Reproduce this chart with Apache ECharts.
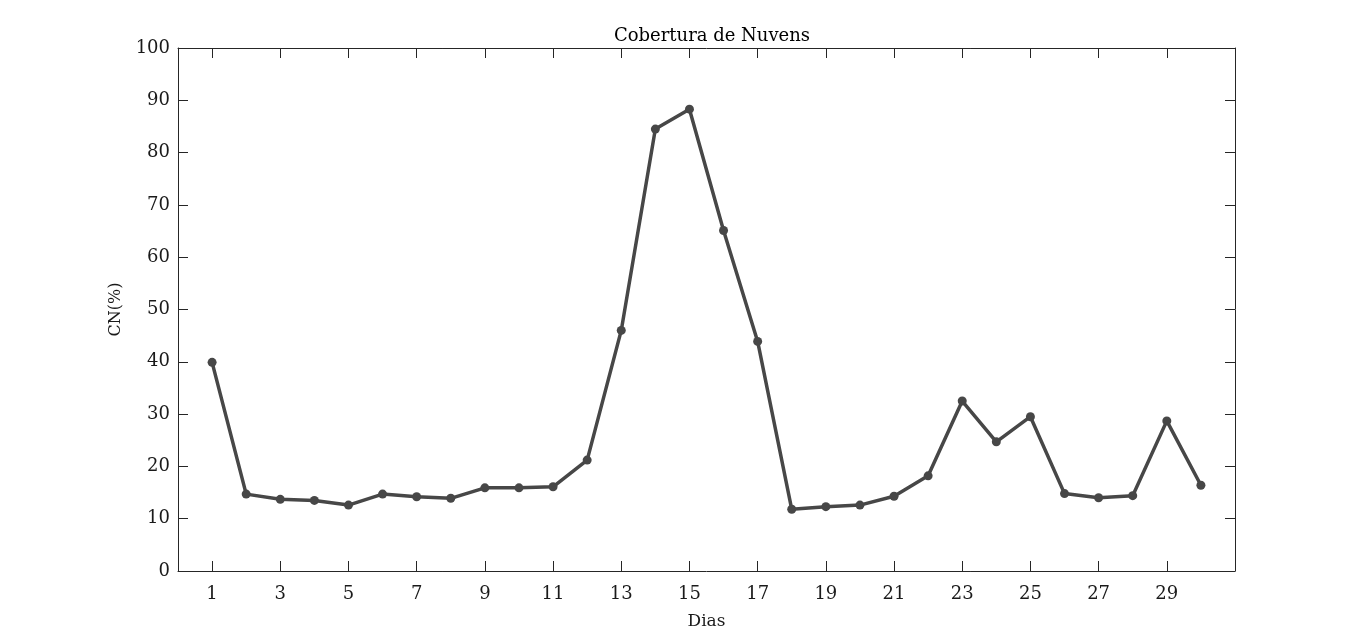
<!DOCTYPE html>
<html>
<head>
<meta charset="utf-8">
<script src="https://cdn.jsdelivr.net/npm/echarts@6/dist/echarts.min.js"></script>
<style>
html,body{margin:0;padding:0;background:#fff;}
#chart{width:1366px;height:643px;}
</style>
</head>
<body>
<div id="chart"></div>
<script>
const days = [1,2,3,4,5,6,7,8,9,10,11,12,13,14,15,16,17,18,19,20,21,22,23,24,25,26,27,28,29,30];
const cloudCover = [39.9,14.7,13.7,13.5,12.6,14.7,14.2,13.9,15.9,15.9,16.1,21.2,46.0,84.5,88.3,65.1,43.9,11.8,12.3,12.6,14.3,18.2,32.5,24.7,29.5,14.8,14.0,14.4,28.7,16.4];
const xTicks = [1,3,5,7,9,11,13,15,17,19,21,23,25,27,29];
const yTicks = [0,10,20,30,40,50,60,70,80,90,100];

const FONT = 'DejaVu Serif';
const axisCol = '#262626';
const chart = echarts.init(document.getElementById('chart'));
const lineStyle = {color: axisCol, width: 1};
chart.setOption({
  animation: false,
  backgroundColor: '#fff',
  title: {
    text: 'Cobertura de Nuvens',
    left: 707, top: 22, textAlign: 'center',
    textStyle: {fontFamily: FONT, fontSize: 18, fontWeight: 'normal', color: '#000'}
  },
  grid: {left: 178, top: 48, right: 131, bottom: 72, containLabel: false},
  xAxis: [{
    type: 'value', min: 0, max: 31,
    name: 'Dias', nameLocation: 'middle', nameGap: 42,
    nameTextStyle: {fontFamily: FONT, fontSize: 17, color: '#1a1a1a'},
    axisLine: {show: true, onZero: false, lineStyle},
    axisTick: {show: true, inside: true, length: 10, lineStyle, customValues: xTicks},
    axisLabel: {fontFamily: FONT, fontSize: 18, color: '#1a1a1a', margin: 14, customValues: xTicks},
    splitLine: {show: false}
  }, {
    type: 'value', min: 0, max: 31, position: 'top',
    axisLine: {show: true, onZero: false, lineStyle},
    axisTick: {show: true, inside: true, length: 10, lineStyle, customValues: xTicks},
    axisLabel: {show: false},
    splitLine: {show: false}
  }],
  yAxis: [{
    type: 'value', min: 0, max: 100, interval: 10,
    name: 'CN(%)', nameLocation: 'middle', nameGap: 54, nameRotate: 90,
    nameTextStyle: {fontFamily: FONT, fontSize: 16, color: '#1a1a1a'},
    axisLine: {show: true, onZero: false, lineStyle},
    axisTick: {show: true, inside: true, length: 10, lineStyle},
    axisLabel: {fontFamily: FONT, fontSize: 18, color: '#1a1a1a', margin: 8},
    splitLine: {show: false}
  }, {
    type: 'value', min: 0, max: 100, interval: 10, position: 'right',
    axisLine: {show: true, onZero: false, lineStyle},
    axisTick: {show: true, inside: true, length: 10, lineStyle},
    axisLabel: {show: false},
    splitLine: {show: false}
  }],
  series: [{
    type: 'line',
    data: days.map((d, i) => [d, cloudCover[i]]),
    symbol: 'circle', symbolSize: 9,
    lineStyle: {color: '#474747', width: 3.5},
    itemStyle: {color: '#474747'}
  }]
});
</script>
</body>
</html>
